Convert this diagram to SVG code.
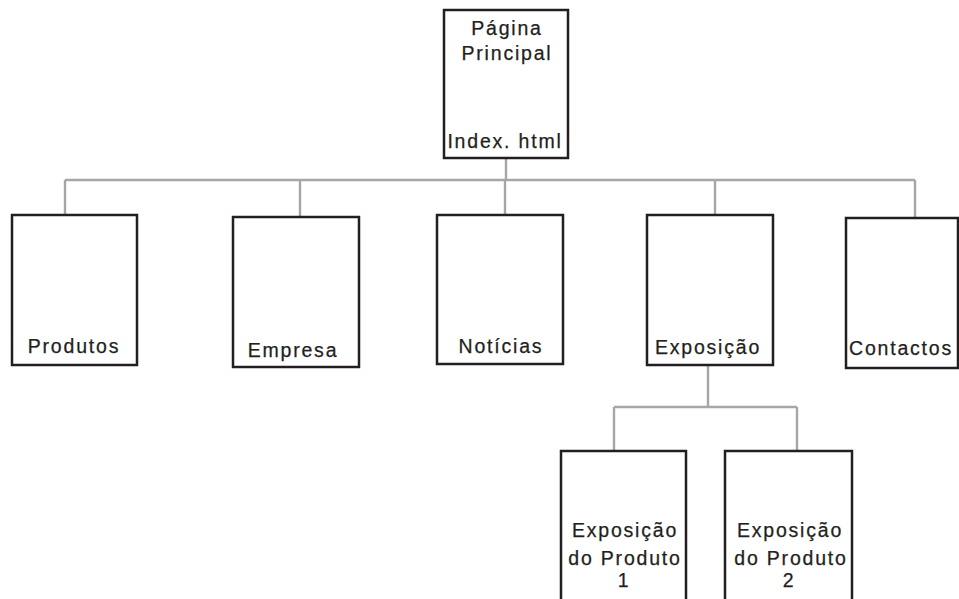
<svg xmlns="http://www.w3.org/2000/svg" width="959" height="599" viewBox="0 0 959 599">
<style>
.box{fill:#fff;stroke:#231f20;stroke-width:2.5}
.ln{fill:none;stroke:#a6a6a8;stroke-width:2.4}
.t{font-family:"Liberation Sans",Arial,sans-serif;font-size:19.5px;fill:#231f20;stroke:#231f20;stroke-width:0.25;letter-spacing:1.8px;text-anchor:middle}
</style>
<rect width="959" height="599" fill="#fff"/>
<g id="connectors">
<path class="ln" d="M506 158V180M65 180H915M65 180V215M300 180V217M505 180V215M715 180V215M915 180V218"/>
<path class="ln" d="M708 365V407M614 407H797M614 407V451M797 407V451"/>
</g>
<g id="home"><rect class="box" x="444" y="10" width="124" height="148"/>
<text class="t" x="507" y="35">Página</text><text class="t" x="507" y="60">Principal</text><text class="t" x="505" y="148">Index. html</text></g>
<g id="produtos"><rect class="box" x="12" y="215" width="125" height="150"/><text class="t" x="74" y="353">Produtos</text></g>
<g id="empresa"><rect class="box" x="233" y="217" width="126" height="150"/><text class="t" x="293" y="357">Empresa</text></g>
<g id="noticias"><rect class="box" x="437" y="215" width="126" height="149"/><text class="t" x="501" y="353">Notícias</text></g>
<g id="exposicao"><rect class="box" x="647" y="215" width="126" height="150"/><text class="t" x="708" y="354">Exposição</text></g>
<g id="contactos"><rect class="box" x="846" y="218" width="112" height="150"/><text class="t" x="901" y="355">Contactos</text></g>
<g id="produto1"><rect class="box" x="561" y="451" width="125" height="160"/>
<text class="t" x="625" y="537">Exposição</text><text class="t" x="625" y="565">do Produto</text><text class="t" x="624" y="587">1</text></g>
<g id="produto2"><rect class="box" x="725" y="451" width="127" height="160"/>
<text class="t" x="790" y="537">Exposição</text><text class="t" x="791" y="565">do Produto</text><text class="t" x="789" y="587">2</text></g>
</svg>
